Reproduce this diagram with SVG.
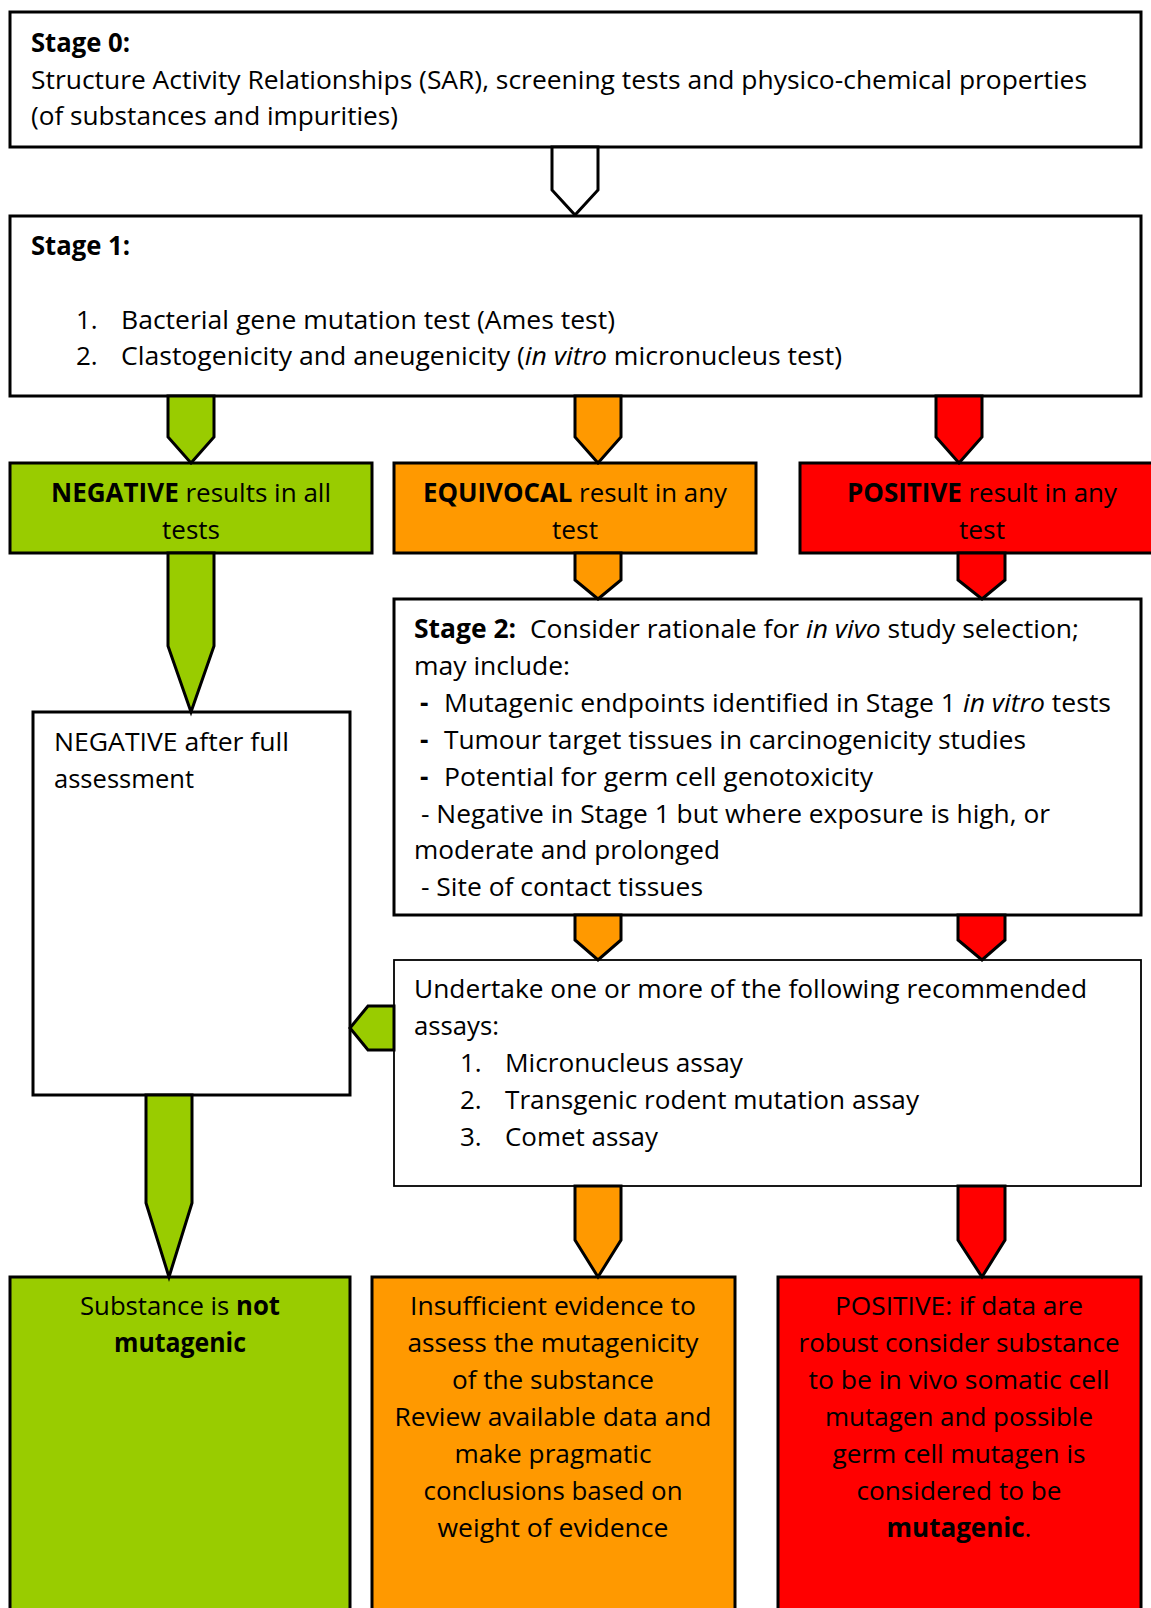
<svg xmlns="http://www.w3.org/2000/svg" width="1151" height="1608" viewBox="0 0 1151 1608">
<style>
  .box { stroke: #000; stroke-width: 3; }
  .thin { stroke: #000; stroke-width: 1.8; }
  .white { fill: #fff; }
  .green { fill: #99CC00; }
  .orange { fill: #FF9900; }
  .red { fill: #FF0000; }
  .arr { stroke: #000; stroke-width: 3; stroke-linejoin: miter; }
  text { font-family: "Open Sans", "Liberation Sans", sans-serif; font-size: 26px; fill: #000; }
  .b { font-weight: 700; }
  .i { font-style: italic; }
  .c { text-anchor: middle; }
</style>
<rect width="1151" height="1608" fill="#fff"/>

<g id="stage0">
  <rect class="box white" x="10" y="12" width="1131" height="135"/>
  <text class="b" x="31" y="52" textLength="99" lengthAdjust="spacingAndGlyphs">Stage 0:</text>
  <text x="31" y="89" textLength="1056" lengthAdjust="spacingAndGlyphs">Structure Activity Relationships (SAR), screening tests and physico-chemical properties</text>
  <text x="31" y="125" textLength="367" lengthAdjust="spacingAndGlyphs">(of substances and impurities)</text>
</g>

<g id="stage1">
  <rect class="box white" x="10" y="216" width="1131" height="180"/>
  <text class="b" x="31" y="255" textLength="99" lengthAdjust="spacingAndGlyphs">Stage 1:</text>
  <text x="76" y="329">1.</text>
  <text x="121" y="329" textLength="494" lengthAdjust="spacingAndGlyphs">Bacterial gene mutation test (Ames test)</text>
  <text x="76" y="365">2.</text>
  <text x="121" y="365" textLength="721" lengthAdjust="spacingAndGlyphs">Clastogenicity and aneugenicity (<tspan class="i">in vitro</tspan> micronucleus test)</text>
</g>

<g id="negative-result">
  <rect class="box green" x="10" y="463" width="362" height="90"/>
  <text class="c" x="191" y="502" textLength="280" lengthAdjust="spacingAndGlyphs"><tspan class="b">NEGATIVE</tspan> results in all</text>
  <text class="c" x="191" y="539" textLength="58" lengthAdjust="spacingAndGlyphs">tests</text>
</g>

<g id="equivocal-result">
  <rect class="box orange" x="394" y="463" width="362" height="90"/>
  <text class="c" x="575" y="502" textLength="304" lengthAdjust="spacingAndGlyphs"><tspan class="b">EQUIVOCAL</tspan> result in any</text>
  <text class="c" x="575" y="539" textLength="46" lengthAdjust="spacingAndGlyphs">test</text>
</g>

<g id="positive-result">
  <rect class="box red" x="800" y="463" width="370" height="90"/>
  <text class="c" x="982" y="502" textLength="270" lengthAdjust="spacingAndGlyphs"><tspan class="b">POSITIVE</tspan> result in any</text>
  <text class="c" x="982" y="539" textLength="46" lengthAdjust="spacingAndGlyphs">test</text>
</g>

<g id="stage2">
  <rect class="box white" x="394" y="599" width="747" height="316"/>
  <text x="414" y="638" xml:space="preserve" textLength="665" lengthAdjust="spacingAndGlyphs"><tspan class="b">Stage 2:</tspan>  Consider rationale for <tspan class="i">in vivo</tspan> study selection;</text>
  <text x="414" y="675" textLength="156" lengthAdjust="spacingAndGlyphs">may include:</text>
  <text class="b" x="420" y="712">-</text>
  <text x="444" y="712" textLength="667" lengthAdjust="spacingAndGlyphs">Mutagenic endpoints identified in Stage 1 <tspan class="i">in vitro</tspan> tests</text>
  <text class="b" x="420" y="749">-</text>
  <text x="444" y="749" textLength="582" lengthAdjust="spacingAndGlyphs">Tumour target tissues in carcinogenicity studies</text>
  <text class="b" x="420" y="786">-</text>
  <text x="444" y="786" textLength="429" lengthAdjust="spacingAndGlyphs">Potential for germ cell genotoxicity</text>
  <text x="421" y="823" textLength="629" lengthAdjust="spacingAndGlyphs">- Negative in Stage 1 but where exposure is high, or</text>
  <text x="414" y="859" textLength="306" lengthAdjust="spacingAndGlyphs">moderate and prolonged</text>
  <text x="421" y="896" textLength="282" lengthAdjust="spacingAndGlyphs">- Site of contact tissues</text>
</g>

<g id="negative-after">
  <rect class="box white" x="33" y="712" width="317" height="383"/>
  <text x="54" y="751" textLength="235" lengthAdjust="spacingAndGlyphs">NEGATIVE after full</text>
  <text x="54" y="788" textLength="140" lengthAdjust="spacingAndGlyphs">assessment</text>
</g>

<g id="assays">
  <rect class="thin white" x="394" y="960" width="747" height="226"/>
  <text x="414" y="998" textLength="673" lengthAdjust="spacingAndGlyphs">Undertake one or more of the following recommended</text>
  <text x="414" y="1035" textLength="85" lengthAdjust="spacingAndGlyphs">assays:</text>
  <text x="460" y="1072">1.</text>
  <text x="505" y="1072" textLength="238" lengthAdjust="spacingAndGlyphs">Micronucleus assay</text>
  <text x="460" y="1109">2.</text>
  <text x="505" y="1109" textLength="414" lengthAdjust="spacingAndGlyphs">Transgenic rodent mutation assay</text>
  <text x="460" y="1146">3.</text>
  <text x="505" y="1146" textLength="153" lengthAdjust="spacingAndGlyphs">Comet assay</text>
</g>

<g id="not-mutagenic">
  <rect class="box green" x="10" y="1277" width="340" height="345"/>
  <text class="c" x="180" y="1315" textLength="200" lengthAdjust="spacingAndGlyphs">Substance is <tspan class="b">not</tspan></text>
  <text class="c b" x="180" y="1352" textLength="132" lengthAdjust="spacingAndGlyphs">mutagenic</text>
</g>

<g id="insufficient">
  <rect class="box orange" x="372" y="1277" width="363" height="345"/>
  <text class="c" x="553" y="1315" textLength="286" lengthAdjust="spacingAndGlyphs">Insufficient evidence to</text>
  <text class="c" x="553" y="1352" textLength="291" lengthAdjust="spacingAndGlyphs">assess the mutagenicity</text>
  <text class="c" x="553" y="1389" textLength="202" lengthAdjust="spacingAndGlyphs">of the substance</text>
  <text class="c" x="553" y="1426" textLength="317" lengthAdjust="spacingAndGlyphs">Review available data and</text>
  <text class="c" x="553" y="1463" textLength="197" lengthAdjust="spacingAndGlyphs">make pragmatic</text>
  <text class="c" x="553" y="1500" textLength="259" lengthAdjust="spacingAndGlyphs">conclusions based on</text>
  <text class="c" x="553" y="1537" textLength="231" lengthAdjust="spacingAndGlyphs">weight of evidence</text>
</g>

<g id="positive-final">
  <rect class="box red" x="778" y="1277" width="363" height="345"/>
  <text class="c" x="959" y="1315" textLength="248" lengthAdjust="spacingAndGlyphs">POSITIVE: if data are</text>
  <text class="c" x="959" y="1352" textLength="321" lengthAdjust="spacingAndGlyphs">robust consider substance</text>
  <text class="c" x="959" y="1389" textLength="301" lengthAdjust="spacingAndGlyphs">to be in vivo somatic cell</text>
  <text class="c" x="959" y="1426" textLength="268" lengthAdjust="spacingAndGlyphs">mutagen and possible</text>
  <text class="c" x="959" y="1463" textLength="253" lengthAdjust="spacingAndGlyphs">germ cell mutagen is</text>
  <text class="c" x="959" y="1500" textLength="205" lengthAdjust="spacingAndGlyphs">considered to be</text>
  <text class="c" x="959" y="1537"><tspan class="b">mutagenic</tspan>.</text>
</g>

<g id="connectors">
  <polygon class="arr white" points="552,147 598,147 598,190 575,215 552,190"/>
  <polygon class="arr green" points="168,396 214,396 214,437 191,463 168,437"/>
  <polygon class="arr orange" points="575,396 621,396 621,437 598,463 575,437"/>
  <polygon class="arr red" points="936,396 982,396 982,437 959,463 936,437"/>
  <polygon class="arr green" points="168,553 214,553 214,646 191,712 168,646"/>
  <polygon class="arr orange" points="575,553 621,553 621,580 598,599 575,580"/>
  <polygon class="arr red" points="958,553 1005,553 1005,580 982,599 958,580"/>
  <polygon class="arr orange" points="575,915 621,915 621,940 598,960 575,940"/>
  <polygon class="arr red" points="958,915 1005,915 1005,940 982,960 958,940"/>
  <polygon class="arr green" points="394,1006 368,1006 350,1028 368,1050 394,1050"/>
  <polygon class="arr green" points="146,1095 192,1095 192,1203 169,1277 146,1203"/>
  <polygon class="arr orange" points="575,1186 621,1186 621,1240 598,1277 575,1240"/>
  <polygon class="arr red" points="958,1186 1005,1186 1005,1240 982,1277 958,1240"/>
</g>
</svg>
